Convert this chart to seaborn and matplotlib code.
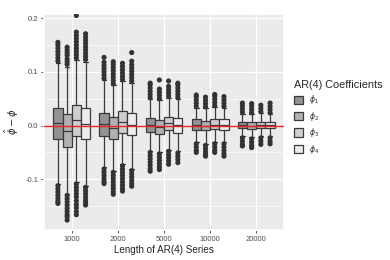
import matplotlib
matplotlib.use("Agg")
import matplotlib.pyplot as plt
import seaborn as sns
import pandas as pd

# series lengths and coefficient names
lengths = ["1000", "2000", "5000", "10000", "20000"]
coefs = ["phi1", "phi2", "phi3", "phi4"]
coef_labels = [r"$\phi_1$", r"$\phi_2$", r"$\phi_3$", r"$\phi_4$"]

# box summaries, one row per (length, coef): lower whisker, q1, median, q3, upper whisker
box_stats = [
    # 1000
    [-0.108, -0.025, 0.004, 0.033, 0.117],
    [-0.127, -0.039, -0.010, 0.021, 0.110],
    [-0.105, -0.020, 0.010, 0.039, 0.123],
    [-0.112, -0.025, 0.003, 0.033, 0.119],
    # 2000
    [-0.078, -0.019, 0.003, 0.024, 0.085],
    [-0.084, -0.025, -0.004, 0.016, 0.075],
    [-0.072, -0.013, 0.006, 0.027, 0.083],
    [-0.081, -0.018, 0.002, 0.023, 0.080],
    # 5000
    [-0.047, -0.012, 0.002, 0.015, 0.049],
    [-0.050, -0.015, -0.003, 0.011, 0.047],
    [-0.045, -0.008, 0.004, 0.016, 0.052],
    [-0.048, -0.013, 0.001, 0.015, 0.049],
    # 10000
    [-0.031, -0.008, 0.001, 0.0115, 0.033],
    [-0.034, -0.009, -0.001, 0.009, 0.032],
    [-0.031, -0.007, 0.002, 0.012, 0.034],
    [-0.031, -0.008, 0.001, 0.0115, 0.033],
    # 20000
    [-0.020, -0.005, 0.001, 0.007, 0.022],
    [-0.022, -0.006, 0.000, 0.006, 0.021],
    [-0.020, -0.005, 0.001, 0.007, 0.023],
    [-0.020, -0.005, 0.001, 0.007, 0.021],
]

# outliers, same order as box_stats
upper_out = [
    [0.120, 0.126, 0.132, 0.138, 0.144, 0.150, 0.155],
    [0.114, 0.119, 0.124, 0.131, 0.136, 0.141, 0.146],
    [0.126, 0.132, 0.138, 0.144, 0.150, 0.156, 0.162, 0.168, 0.174, 0.205],
    [0.123, 0.129, 0.135, 0.141, 0.147, 0.153, 0.159, 0.165, 0.171],
    [0.088, 0.094, 0.100, 0.106, 0.112, 0.118, 0.127],
    [0.078, 0.084, 0.090, 0.096, 0.102, 0.108, 0.114, 0.119],
    [0.086, 0.092, 0.098, 0.104, 0.110, 0.116],
    [0.083, 0.089, 0.095, 0.101, 0.107, 0.113, 0.120, 0.136],
    [0.052, 0.058, 0.064, 0.070, 0.076, 0.079],
    [0.050, 0.056, 0.062, 0.068, 0.085],
    [0.055, 0.061, 0.067, 0.073, 0.083],
    [0.052, 0.058, 0.064, 0.070, 0.076, 0.079],
    [0.036, 0.042, 0.048, 0.054, 0.057],
    [0.035, 0.041, 0.047, 0.053],
    [0.037, 0.043, 0.049, 0.055, 0.058],
    [0.036, 0.042, 0.048, 0.054],
    [0.025, 0.031, 0.037, 0.042],
    [0.024, 0.030, 0.036, 0.041],
    [0.026, 0.032, 0.038],
    [0.024, 0.030, 0.036, 0.042],
]
lower_out = [
    [-0.112, -0.118, -0.124, -0.130, -0.136, -0.141, -0.145],
    [-0.130, -0.136, -0.142, -0.148, -0.154, -0.160, -0.166, -0.170, -0.176],
    [-0.109, -0.115, -0.121, -0.127, -0.133, -0.140, -0.147, -0.153, -0.160, -0.166],
    [-0.115, -0.121, -0.127, -0.133, -0.139, -0.144, -0.148],
    [-0.081, -0.087, -0.093, -0.099, -0.104, -0.108],
    [-0.087, -0.093, -0.099, -0.105, -0.111, -0.117, -0.123, -0.128],
    [-0.075, -0.081, -0.087, -0.093, -0.099, -0.105, -0.111, -0.117, -0.122],
    [-0.084, -0.090, -0.096, -0.102, -0.108, -0.113],
    [-0.050, -0.056, -0.062, -0.068, -0.074, -0.080, -0.085],
    [-0.053, -0.059, -0.065, -0.071, -0.077, -0.082],
    [-0.048, -0.054, -0.060, -0.066, -0.072],
    [-0.051, -0.057, -0.063, -0.069],
    [-0.034, -0.040, -0.046, -0.050],
    [-0.037, -0.043, -0.049, -0.054, -0.057],
    [-0.034, -0.040, -0.046, -0.050],
    [-0.034, -0.040, -0.046, -0.052, -0.057],
    [-0.023, -0.029, -0.035, -0.038],
    [-0.025, -0.031, -0.037, -0.041],
    [-0.023, -0.029, -0.035],
    [-0.023, -0.029, -0.034],
]

fills = ["#939393", "#b1b1b1", "#cecece", "#ececec"]

box_rows = []
out_rows = []
for i, stats in enumerate(box_stats):
    n = lengths[i // 4]
    c = coefs[i % 4]
    for v in stats:
        box_rows.append((n, c, v))
    for v in upper_out[i] + lower_out[i]:
        out_rows.append((n, c, v))
box_df = pd.DataFrame(box_rows, columns=["n", "coef", "value"])
out_df = pd.DataFrame(out_rows, columns=["n", "coef", "value"])

sns.set_theme(style="darkgrid", rc={
    "axes.facecolor": "#EBEBEB",
    "grid.color": "white",
    "grid.linewidth": 0.9,
    "xtick.bottom": True,
    "ytick.left": True,
    "xtick.major.size": 2.5,
    "ytick.major.size": 2.5,
    "xtick.major.width": 0.6,
    "ytick.major.width": 0.6,
    "xtick.color": "#333333",
    "ytick.color": "#333333",
    "xtick.major.pad": 1.5,
    "ytick.major.pad": 1.5,
})
plt.rcParams["font.family"] = ["Liberation Sans", "DejaVu Sans"]

fig = plt.figure(figsize=(3.9, 2.6), dpi=100)
ax = fig.add_axes([0.113, 0.115, 0.615, 0.831])

sns.boxplot(data=box_df, x="n", y="value", hue="coef", order=lengths,
            hue_order=coefs, palette=fills, saturation=1, whis=(0, 100),
            showfliers=False, width=0.8, linecolor="#3a3a3a", linewidth=0.9,
            ax=ax)
sns.stripplot(data=out_df, x="n", y="value", hue="coef", order=lengths,
              hue_order=coefs, palette=["#333333"] * 4, dodge=True,
              jitter=False, size=3.7, linewidth=0, legend=False, ax=ax)

ax.axhline(0, color="#e8262a", linewidth=1.0, zorder=10)

ax.set_xlim(-0.6, 4.6)
ax.set_ylim(-0.1946, 0.2077)
ax.set_yticks([-0.1, 0.0, 0.1, 0.2])
ax.set_yticklabels(["-0.1", "0.0", "0.1", "0.2"])
ax.set_yticks([-0.15, -0.05, 0.05, 0.15], minor=True)
ax.grid(which="minor", axis="y", color="white", linewidth=0.45)
ax.grid(which="major", color="white", linewidth=0.9)
ax.tick_params(axis="both", labelsize=5.5, labelcolor="#4d4d4d")
ax.tick_params(which="minor", left=False)

ax.set_xlabel("Length of AR(4) Series", fontsize=7.1, labelpad=2)
ax.set_ylabel(r"$\hat{\phi}-\phi$", fontsize=7.1, labelpad=3)

handles, _ = ax.get_legend_handles_labels()
leg = ax.legend(handles[:4], coef_labels, title="AR(4) Coefficients",
                loc="center left", bbox_to_anchor=(1.03, 0.52), frameon=False,
                fontsize=5.5, title_fontsize=7.8, handlelength=1.2,
                handleheight=1.3, labelspacing=0.45, borderaxespad=0)
leg._legend_box.align = "left"

fig.savefig("out.png", dpi=100)
